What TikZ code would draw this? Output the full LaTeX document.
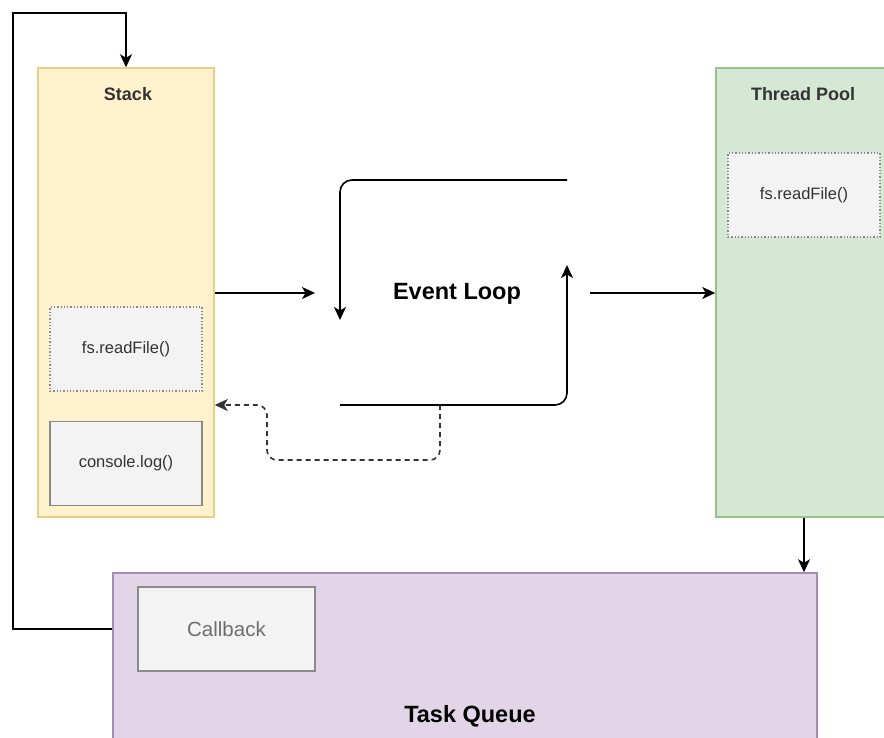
\documentclass[tikz,border=0pt]{standalone}
\usepackage{fontspec}
\setmainfont{Liberation Sans}
\usetikzlibrary{arrows.meta,calc}
\definecolor{stackfill}{HTML}{FFF2CC}
\definecolor{stackline}{HTML}{E8CF86}
\definecolor{poolfill}{HTML}{D5E8D4}
\definecolor{poolline}{HTML}{97C08A}
\definecolor{queuefill}{HTML}{E1D5E7}
\definecolor{queueline}{HTML}{A68BB8}
\definecolor{itemfill}{HTML}{F3F3F3}
\definecolor{itemline}{HTML}{8A8A8A}
\definecolor{labeltext}{HTML}{333333}
\tikzset{
  x=1pt, y=-1pt,
  panel/.style={draw, line width=1.5pt, inner sep=0pt, rectangle},
  stackbox/.style={panel, fill=stackfill, draw=stackline},
  poolbox/.style={panel, fill=poolfill, draw=poolline},
  queuebox/.style={panel, fill=queuefill, draw=queueline},
  itembox/.style={draw=itemline, fill=itemfill, line width=1.3pt, inner sep=0pt,
    minimum width=152pt, minimum height=84pt, text=labeltext,
    font=\fontsize{16.5}{18}\selectfont},
  pending/.style={itembox, dotted, line width=1.2pt},
  title/.style={text=labeltext, font=\bfseries\fontsize{18}{20}\selectfont},
  big/.style={text=black, font=\bfseries\fontsize{23.5}{26}\selectfont},
  arr/.style={line width=1.6pt, -{Stealth[length=13pt,width=12pt,inset=3.5pt]}},
}
\begin{document}
\begin{tikzpicture}
\useasboundingbox (0,0) rectangle (884,738);
\clip (0,0) rectangle (884,738);

% containers
\node[stackbox, minimum width=176pt, minimum height=449pt] (stack) at (126,292.5) {};
\node[poolbox, minimum width=176pt, minimum height=449pt] (pool) at (804,292.5) {};
\node[queuebox, minimum width=704pt, minimum height=200pt] (queue) at (465,673) {};

% container titles
\node[title] (stacktitle) at (128,94) {Stack};
\node[title] (pooltitle) at (803,94) {Thread Pool};
\node[big] (queuetitle) at (470,716) {Task Queue};

% items
\node[pending] (readfile) at (126,349) {fs.readFile()};
\node[itembox] (consolelog) at (126,463.5) {console.log()};
\node[pending] (poolread) at (804,195) {fs.readFile()};
\node[itembox, minimum width=177pt, minimum height=84pt,
  text=itemline!80!black, font=\fontsize{20.5}{22}\selectfont] (callback) at (226.5,629) {Callback};

% event loop
\node[big] (loop) at (457,294) {Event Loop};
\coordinate (topR) at (567,180);
\coordinate (topL) at (340,180);
\coordinate (downEnd) at (340,320);
\coordinate (botL) at (340,405);
\coordinate (botR) at (567,405);
\coordinate (upEnd) at (567,265);
\draw[arr, rounded corners=12pt] (topR) -- (topL) -- (downEnd);
\draw[arr, rounded corners=12pt] (botL) -- (botR) -- (upEnd);

% into and out of the loop
\coordinate (loopIn) at (315,293);
\coordinate (loopOut) at (590,293);
\draw[arr] (stack.east |- loopIn) -- (loopIn);
\draw[arr] (loopOut) -- (loopOut -| pool.west);

% result returned to the stack
\coordinate (retTap) at (440,405);
\coordinate (retLow) at (440,460);
\coordinate (retLeft) at (267,460);
\coordinate (retUp) at (267,405);
\draw[arr, draw=black!80, dash pattern=on 5pt off 4pt, rounded corners=10pt]
  (retTap) -- (retLow) -- (retLeft) -- (retUp) -- (stack.east |- retUp);

% thread pool hands the callback to the task queue
\draw[arr] (pool.south) -- (pool.south |- queue.north);

% callback goes back onto the stack
\coordinate (outerBL) at (13,629);
\coordinate (outerTL) at (13,13);
\draw[arr] (callback.west -| queue.west) -- (outerBL) -- (outerTL) -| (stack.north);
\end{tikzpicture}
\end{document}
